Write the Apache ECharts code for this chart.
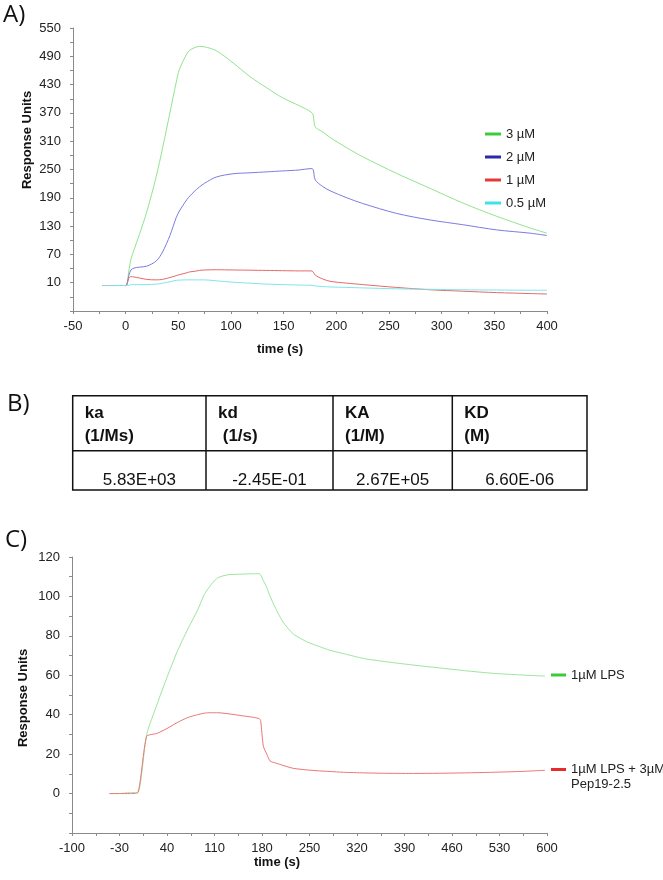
<!DOCTYPE html>
<html><head><meta charset="utf-8">
<script src="https://cdn.jsdelivr.net/npm/echarts@6/dist/echarts.min.js"></script>
<style>html,body{margin:0;padding:0;background:#fff}#c{width:663px;height:880px}</style>
</head><body><div id="c"></div>
<script>
// ---------- Panel A data ----------
const timeA = [-22, -10, 0, 3, 5, 8, 13, 20, 29, 35, 42, 48, 51, 58, 61, 65, 70, 75, 86, 102, 118, 134, 149, 165, 176, 178, 180, 187, 194, 210, 225, 257, 289, 320, 352, 384, 400];
const uM3  = [4, 4, 4, 35, 60, 80, 112, 160, 235, 295, 370, 435, 462, 495, 503, 508, 511, 510, 502, 476, 447, 423, 402, 385, 372, 365, 340, 330, 318, 296, 277, 242, 210, 179, 151, 126, 115];
const uM2  = [4, 4, 4, 25, 37, 41, 43, 45, 56, 75, 110, 148, 162, 186, 194, 203, 213, 221, 234, 241, 243, 245, 247, 249, 252, 250, 228, 214, 205, 190, 178, 157, 143, 133, 122, 115, 110];
const uM1  = [4, 4, 4, 20, 23, 22, 20, 17, 16, 17, 21, 25, 27, 31, 33, 34, 36, 37, 37.5, 37, 36.5, 36, 35.5, 35, 35, 33, 26, 18, 13, 9, 6, 0, -5, -8, -11, -13, -14];
const uM05 = [4, 4, 4, 4, 6, 6, 6, 6, 7, 9, 12, 15, 15.5, 16, 16, 16, 16, 16, 14, 11, 9, 7, 6, 5, 4.5, 4, 3, 2, 1, 0, -1, -3, -4, -5, -5.5, -6, -6];
const namesA = ['3 µM', '2 µM', '1 µM', '0.5 µM'];
const xLabelsA = [-50, 0, 50, 100, 150, 200, 250, 300, 350, 400];
const xTicksA = [-50, -25, 0, 25, 50, 75, 100, 125, 150, 175, 200, 225, 250, 275, 300, 325, 350, 375, 400];
const yLabelsA = [10, 70, 130, 190, 250, 310, 370, 430, 490, 550];
const yTicksA = [-50, -20, 10, 40, 70, 100, 130, 160, 190, 220, 250, 280, 310, 340, 370, 400, 430, 460, 490, 520, 550];

// ---------- Panel B data ----------
const tableSymbols = ['ka', 'kd', 'KA', 'KD'];
const tableUnits = ['(1/Ms)', ' (1/s)', '(1/M)', '(M)'];
const tableValues = ['5.83E+03', '-2.45E-01', '2.67E+05', '6.60E-06'];

// ---------- Panel C data ----------
const timeC = [-45, -30, -15, -3, 10, 25, 40, 55, 70, 85, 95, 105, 115, 130, 150, 165, 176, 178, 182, 187, 192, 200, 211, 226, 246, 265, 280, 300, 330, 360, 400, 440, 480, 520, 560, 597];
const lps   = [0, 0, 0.5, 0.5, 30, 45, 59, 72, 83, 93, 101, 106, 109.5, 111, 111.3, 111.5, 111.5, 111, 108, 104.5, 100, 94, 87, 81, 77, 74.5, 72.7, 71, 68.5, 67, 65.3, 63.8, 62.3, 61, 60.2, 59.6];
const lpsPep = [0, 0, 0, 0.5, 29, 30.5, 33, 36, 38.5, 40, 40.8, 41, 41, 40.5, 39.5, 38.8, 38, 37, 24, 20, 16.5, 15.5, 14.3, 12.8, 12, 11.5, 11.2, 10.8, 10.5, 10.3, 10.2, 10.3, 10.5, 10.8, 11.2, 11.8];
const namesC = ['1µM LPS', '1µM LPS + 3µM Pep19-2.5'];
const xLabelsC = [-100, -30, 40, 110, 180, 250, 320, 390, 460, 530, 600];
const xTicksC = [-100, -65, -30, 5, 40, 75, 110, 145, 180, 215, 250, 285, 320, 355, 390, 425, 460, 495, 530, 565, 600];
const yLabelsC = [0, 20, 40, 60, 80, 100, 120];
const yTicksC = [-20, -10, 0, 10, 20, 30, 40, 50, 60, 70, 80, 90, 100, 110, 120];

// ---------- styling ----------
const FONT = "'Liberation Sans', Arial, sans-serif";
const axisCol = '#8a8a8a';
const lblCol = '#222';
const lineColsA = ['#90E490', '#7C7CE0', '#E46A6A', '#80E6EA'];
const legColsA = ['#3CCB3C', '#2A2AA8', '#E23A3A', '#3DE3E8'];
const lineColsC = ['#9CE69C', '#EA7676'];
const legColsC = ['#3ACB3A', '#E52B2B'];

function xAxisCfg(grid, min, max, labels, ticks) {
  return {
    type: 'value', gridIndex: grid, min: min, max: max,
    axisLine: { show: true, onZero: false, lineStyle: { color: axisCol, width: 1 } },
    axisTick: { show: true, length: 3, customValues: ticks, lineStyle: { color: axisCol } },
    axisLabel: { customValues: labels, margin: 9, fontSize: 13, color: lblCol, fontFamily: FONT },
    splitLine: { show: false }
  };
}
function yAxisCfg(grid, min, max, labels, ticks) {
  return {
    type: 'value', gridIndex: grid, min: min, max: max,
    axisLine: { show: true, onZero: false, lineStyle: { color: axisCol, width: 1 } },
    axisTick: { show: true, length: 3, customValues: ticks, lineStyle: { color: axisCol } },
    axisLabel: { customValues: labels, margin: 12, fontSize: 13, color: lblCol, fontFamily: FONT },
    splitLine: { show: false }
  };
}

const seriesA = [uM3, uM2, uM1, uM05].map((arr, i) => ({
  type: 'line', name: namesA[i], xAxisIndex: 0, yAxisIndex: 0,
  data: timeA.map((t, j) => [t, arr[j]]),
  symbol: 'none', smooth: 0.3,
  itemStyle: { color: legColsA[i] },
  lineStyle: { color: lineColsA[i], width: 1 }
}));
const seriesC = [lps, lpsPep].map((arr, i) => ({
  type: 'line', name: namesC[i], xAxisIndex: 1, yAxisIndex: 1,
  data: timeC.map((t, j) => [t, arr[j]]),
  symbol: 'none', smooth: 0.2,
  itemStyle: { color: legColsC[i] },
  lineStyle: { color: lineColsC[i], width: 1 }
}));

// ---------- table graphic ----------
const tb = { left: 72.7, top: 395.7, right: 587, bottom: 490, mid: 450.7, cols: [72.7, 206, 333, 452.3, 587] };
const tableGraphics = [];
tableGraphics.push({ type: 'rect', shape: { x: tb.left, y: tb.top, width: tb.right - tb.left, height: tb.bottom - tb.top }, style: { fill: 'none', stroke: '#111', lineWidth: 1.5 } });
tableGraphics.push({ type: 'line', shape: { x1: tb.left, y1: tb.mid, x2: tb.right, y2: tb.mid }, style: { stroke: '#111', lineWidth: 1.5 } });
for (let k = 1; k < 4; k++) {
  tableGraphics.push({ type: 'line', shape: { x1: tb.cols[k], y1: tb.top, x2: tb.cols[k], y2: tb.bottom }, style: { stroke: '#111', lineWidth: 1.5 } });
}
for (let k = 0; k < 4; k++) {
  const x0 = tb.cols[k] + 12;
  tableGraphics.push({ type: 'text', x: x0, y: 413, style: { text: tableSymbols[k], fontFamily: FONT, fontWeight: 'bold', fontSize: 17, fill: '#111', align: 'left', verticalAlign: 'middle' } });
  tableGraphics.push({ type: 'text', x: x0, y: 436, style: { text: tableUnits[k], fontFamily: FONT, fontWeight: 'bold', fontSize: 17, fill: '#111', align: 'left', verticalAlign: 'middle' } });
  tableGraphics.push({ type: 'text', x: (tb.cols[k] + tb.cols[k + 1]) / 2, y: 480, style: { text: tableValues[k], fontFamily: FONT, fontSize: 17, fill: '#111', align: 'center', verticalAlign: 'middle' } });
}

const panelFont = "'Open Sans', 'Lato', sans-serif";
const graphics = [
  { type: 'text', x: 3, y: 15, style: { text: 'A)', fontFamily: panelFont, fontSize: 24, fill: '#111', align: 'left', verticalAlign: 'middle' } },
  { type: 'text', x: 7, y: 404, style: { text: 'B)', fontFamily: panelFont, fontSize: 24, fill: '#111', align: 'left', verticalAlign: 'middle' } },
  { type: 'text', x: 5, y: 540, style: { text: 'C)', fontFamily: panelFont, fontSize: 24, fill: '#111', align: 'left', verticalAlign: 'middle' } },
  { type: 'text', x: 27, y: 140, rotation: Math.PI / 2, style: { text: 'Response Units', fontFamily: FONT, fontWeight: 'bold', fontSize: 13, fill: '#111', align: 'center', verticalAlign: 'middle' } },
  { type: 'text', x: 280, y: 349, style: { text: 'time (s)', fontFamily: FONT, fontWeight: 'bold', fontSize: 13, fill: '#111', align: 'center', verticalAlign: 'middle' } },
  { type: 'text', x: 23, y: 698, rotation: Math.PI / 2, style: { text: 'Response Units', fontFamily: FONT, fontWeight: 'bold', fontSize: 13, fill: '#111', align: 'center', verticalAlign: 'middle' } },
  { type: 'text', x: 277, y: 862, style: { text: 'time (s)', fontFamily: FONT, fontWeight: 'bold', fontSize: 13, fill: '#111', align: 'center', verticalAlign: 'middle' } }
].concat(tableGraphics);

const chart = echarts.init(document.getElementById('c'), null, { renderer: 'canvas' });
chart.setOption({
  backgroundColor: '#fff',
  animation: false,
  grid: [
    { left: 73, top: 28, width: 474, height: 283 },
    { left: 72, top: 557, width: 475, height: 276 }
  ],
  xAxis: [xAxisCfg(0, -50, 400, xLabelsA, xTicksA), xAxisCfg(1, -100, 600, xLabelsC, xTicksC)],
  yAxis: [yAxisCfg(0, -50, 550, yLabelsA, yTicksA), yAxisCfg(1, -20, 120, yLabelsC, yTicksC)],
  legend: [
    { data: namesA, orient: 'vertical', left: 485, top: 127, padding: 0, itemWidth: 16, itemHeight: 3, itemGap: 9, icon: 'rect',
      textStyle: { fontSize: 13, lineHeight: 14, color: lblCol, fontFamily: FONT } },
    { data: [namesC[0]], left: 551, top: 668, padding: 0, itemWidth: 15, itemHeight: 3, icon: 'rect',
      textStyle: { fontSize: 13, lineHeight: 14, color: lblCol, fontFamily: FONT } },
    { data: [namesC[1]], left: 551, top: 747, padding: 0, itemWidth: 15, itemHeight: 3, icon: 'rect',
      formatter: () => ' \n1µM LPS + 3µM\nPep19-2.5',
      textStyle: { fontSize: 13, lineHeight: 15, color: lblCol, fontFamily: FONT } }
  ],
  graphic: graphics,
  series: seriesA.concat(seriesC)
});
</script>
</body></html>
